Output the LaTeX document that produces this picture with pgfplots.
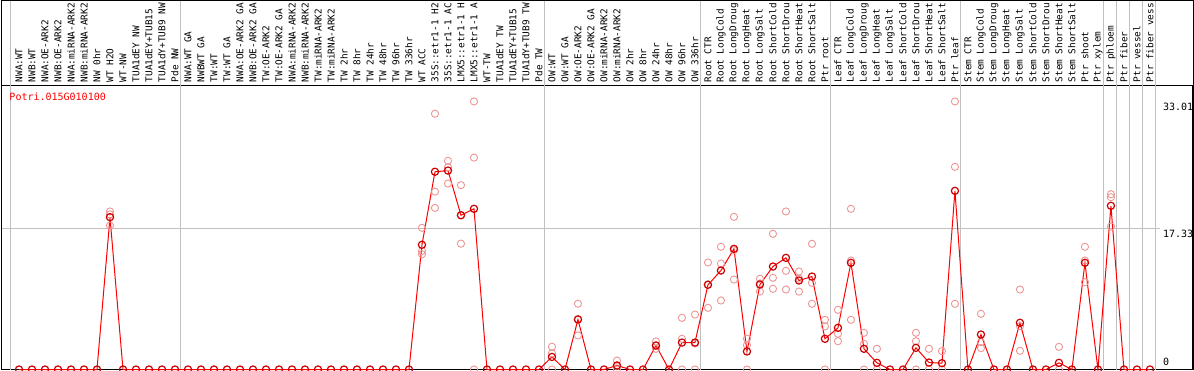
\documentclass[border=0pt]{standalone}
\usepackage{pgfplots}
\pgfplotsset{compat=1.18}
\usepackage{fontspec}
\setmainfont{DejaVu Sans Mono}
\definecolor{pale}{RGB}{238,150,150}
\definecolor{gridgray}{RGB}{192,192,192}
\definecolor{mainred}{RGB}{255,0,0}

\begin{document}
\begin{tikzpicture}[x=1bp,y=1bp]
\useasboundingbox (0,0) rectangle (1194,370);
\fill[white] (0,0) rectangle (1194,370);
\begin{axis}[
  at={(1bp,0.5bp)}, anchor=south west,
  scale only axis, width=1192bp, height=284bp,
  xmin=-0.3846, xmax=91.31, ymin=0, ymax=34.975,
  clip=false,
  axis line style={black, line width=1bp},
  tick style={draw=none},
  xtick={1,...,88},
  xticklabels={{NWA:WT},{NWB:WT},{NWA:OE-ARK2},{NWB:OE-ARK2},{NWA:miRNA-ARK2},{NWB:miRNA-ARK2},{NW 0hr},{WT H2O},{WT-NW},{TUA1dEY NW},{TUA1dEY+TUB15},{TUA1dY+TUB9 NW},{Pde NW},
    {NWA:WT GA},{NWBWT GA},{TW:WT},{TW:WT GA},{NWA:OE-ARK2 GA},{NWB:OE-ARK2 GA},{TW:OE-ARK2},{TW:OE-ARK2 GA},{NWA:miRNA-ARK2},{NWB:miRNA-ARK2},{TW:miRNA-ARK2},{TW:miRNA-ARK2},{TW 2hr},{TW 8hr},{TW 24hr},{TW 48hr},{TW 96hr},{TW 336hr},{WT ACC},{35S::etr1-1 H2},{35S::etr1-1 AC},{LMX5::etr1-1 H},{LMX5::etr1-1 A},{WT-TW},{TUA1dEY TW},{TUA1dEY+TUB15},{TUA1dY+TUB9 TW},{Pde TW},
    {OW:WT},{OW:WT GA},{OW:OE-ARK2},{OW:OE-ARK2 GA},{OW:miRNA-ARK2},{OW:miRNA-ARK2},{OW 2hr},{OW 8hr},{OW 24hr},{OW 48hr},{OW 96hr},{OW 336hr},
    {Root CTR},{Root LongCold},{Root LongDroug},{Root LongHeat},{Root LongSalt},{Root ShortCold},{Root ShortDrou},{Root ShortHeat},{Root ShortSalt},{Ptr root},
    {Leaf CTR},{Leaf LongCold},{Leaf LongDroug},{Leaf LongHeat},{Leaf LongSalt},{Leaf ShortCold},{Leaf ShortDrou},{Leaf ShortHeat},{Leaf ShortSalt},{Ptr leaf},
    {Stem CTR},{Stem LongCold},{Stem LongDroug},{Stem LongHeat},{Stem LongSalt},{Stem ShortCold},{Stem ShortDrou},{Stem ShortHeat},{Stem ShortSalt},{Ptr shoot},{Ptr xylem},
    {Ptr phloem},{Ptr fiber},{Ptr vessel},{Ptr fiber vess}},
  xticklabel pos=upper,
  xticklabel style={rotate=90, anchor=west, inner sep=0pt, font=\fontsize{9.4bp}{10bp}\selectfont},
  xticklabel shift=3bp,
  ytick={17.33,33.01}, yticklabels={17.33,33.01},
  yticklabel pos=right,
  yticklabel style={anchor=north west, inner sep=0pt, xshift=-30bp, yshift=-1.5bp, font=\fontsize{10bp}{11bp}\selectfont},
  extra y ticks={0}, extra y tick labels={0},
  extra y tick style={yticklabel style={anchor=south west, yshift=5bp}},
]
\pgfplotsinvokeforeach{0.33,13.41,41.41,53.41,63.41,73.41,84.41,85.41,86.41,87.41,88.41}{
  \draw[gridgray, line width=1bp] (axis cs:#1,0) -- (axis cs:#1,45.5);
}
\draw[gridgray, line width=1bp] (axis cs:-0.3846,17.33) -- (axis cs:88.77,17.33);

\addplot[pale, only marks, mark=o, mark size=3.6bp, mark options={line width=0.9bp}] table {
x y
8 19.46
8 19.1
8 17.73
32 17.45
32 14.6
32 14.2
33 31.5
33 21.9
33 19.9
34 25.7
34 24.9
34 22.9
35 22.7
35 19.0
35 15.5
36 33.01
36 26.1
36 0
42 2.8
42 2.0
42 0
44 8.1
44 6.2
44 4.2
47 1.1
47 0.4
47 0
50 3.45
50 2.9
50 2.55
52 6.36
52 3.78
52 0
53 6.77
53 3.2
53 0
54 13.18
54 10.5
54 7.6
55 15.11
55 13.05
55 8.5
56 18.8
56 14.7
56 11.08
57 3.8
57 3.0
57 0
58 11.17
58 10.6
58 9.6
59 16.71
59 11.29
59 9.94
60 19.46
60 12.15
60 9.85
61 12.07
61 11.2
61 9.6
62 15.48
62 10.67
62 8.09
63 6.12
63 5.3
63 0
64 7.35
64 4.4
64 3.49
65 19.79
65 13.42
65 6.12
66 4.52
66 3.16
66 0
67 2.55
67 0
70 4.52
70 3.49
70 0
71 2.55
71 0
72 2.26
72 0
73 33.01
73 24.96
73 8.09
75 6.86
75 3.37
75 2.63
78 9.85
78 5.34
78 2.3
81 2.79
81 0
83 15.11
83 13.42
83 10.76
85 21.59
85 21.22
85 17.61
};

\addplot[mainred, line width=1bp, mark=o, mark size=3.6bp, mark options={draw=red!80!black, line width=1.2bp}] table {
x y
1 0
2 0
3 0
4 0
5 0
6 0
7 0
8 18.76
9 0
10 0
11 0
12 0
13 0
14 0
15 0
16 0
17 0
18 0
19 0
20 0
21 0
22 0
23 0
24 0
25 0
26 0
27 0
28 0
29 0
30 0
31 0
32 15.36
33 24.35
34 24.5
35 19.0
36 19.79
37 0
38 0
39 0
40 0
41 0
42 1.55
43 0
44 6.16
45 0
46 0
47 0.5
48 0
49 0
50 2.96
51 0
52 3.32
53 3.32
54 10.43
55 12.19
56 14.86
57 2.22
58 10.47
59 12.68
60 13.75
61 10.96
62 11.45
63 3.78
64 5.13
65 13.14
66 2.55
67 0.82
68 0
69 0
70 2.67
71 0.86
72 0.78
73 22.0
74 0
75 4.31
76 0
77 0
78 5.75
79 0
80 0
81 0.82
82 0
83 13.14
84 0
85 20.16
86 0
87 0
88 0
};
\end{axis}
\draw[black, line width=1bp] (1,0.5) -- (1,369.5) -- (1193.5,369.5) -- (1193.5,0.5);
\node[anchor=west, inner sep=0pt, text=mainred, font=\fontsize{10bp}{11bp}\selectfont] at (9.3,273) {Potri.015G010100};
\end{tikzpicture}
\end{document}
